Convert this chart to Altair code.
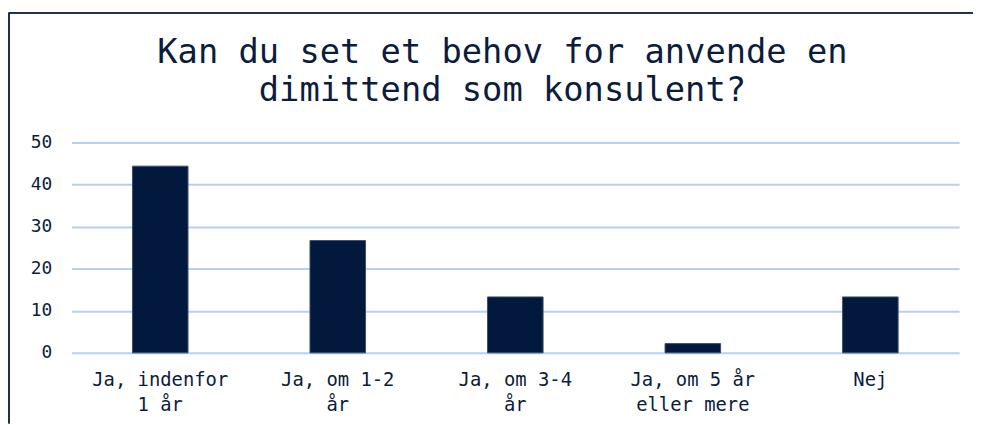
import altair as alt
import pandas as pd

categories = ["Ja, indenfor 1 år", "Ja, om 1-2 år", "Ja, om 3-4 år", "Ja, om 5 år eller mere", "Nej"]
label_lines = [["Ja, indenfor", "1 år"], ["Ja, om 1-2", "år"], ["Ja, om 3-4", "år"], ["Ja, om 5 år", "eller mere"], ["Nej"]]
values = [44.4, 26.7, 13.3, 2.2, 13.3]
y_ticks = [0, 10, 20, 30, 40, 50]
title_lines = ["Kan du set et behov for anvende en", "dimittend som konsulent?"]

FONT = "DejaVu Sans Mono"
NAVY = "#03183d"
TEXT = "#0c1c3c"
GRID = "#b6d0f4"

df = pd.DataFrame({"kategori": categories, "vaerdi": values})

pairs = []
for c, lines in zip(categories, label_lines):
    arr = ",".join("'" + s + "'" for s in lines)
    pairs.append("'" + c + "':[" + arr + "]")
label_expr = "{" + ",".join(pairs) + "}[datum.label]"

bars = alt.Chart(df).mark_bar(size=56, color=NAVY, stroke="#3b4d70", strokeWidth=1).encode(
    x=alt.X("kategori:N", sort=categories,
            scale=alt.Scale(paddingInner=0, paddingOuter=0),
            axis=alt.Axis(title=None, labelAngle=0, domain=False, ticks=False,
                          labelFont=FONT, labelFontSize=19, labelColor=TEXT,
                          labelLineHeight=25, labelPadding=18, labelExpr=label_expr,
                          labelLimit=0)),
    y=alt.Y("vaerdi:Q", scale=alt.Scale(domain=[0, 50], nice=False),
            axis=alt.Axis(title=None, values=y_ticks, domain=False, ticks=False,
                          labelFont=FONT, labelFontSize=18, labelColor=TEXT,
                          labelPadding=20, grid=True, gridColor=GRID, gridWidth=2)),
)

top_border = alt.Chart(df).mark_rule(color="#1f3050", strokeWidth=1.5).encode(
    x=alt.value(-63), x2=alt.value(909), y=alt.value(-131)
)
left_border = alt.Chart(df).mark_rule(color="#1f3050", strokeWidth=1.5).encode(
    x=alt.value(-63), y=alt.value(-131), y2=alt.value(283)
)

chart = alt.layer(bars, top_border, left_border).properties(
    width=895,
    height=212,
    autosize=alt.AutoSizeParams(type="none"),
    padding={"left": 64, "top": 134, "right": 14, "bottom": 71},
    title=alt.TitleParams(text=title_lines, font=FONT, fontSize=34, fontWeight="normal",
                          color=TEXT, anchor="middle", frame="group", lineHeight=39,
                          baseline="top", offset=-97, dx=-13),
).configure_view(stroke=None)

chart.save("out.html", embed_options={"renderer": "svg", "actions": False})
